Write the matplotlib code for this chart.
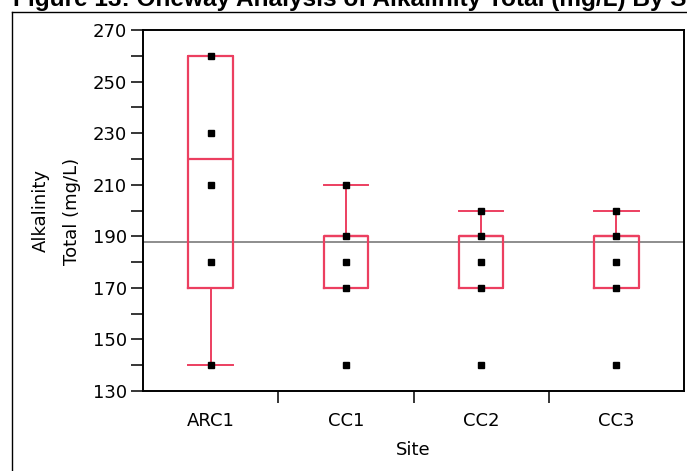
import matplotlib.pyplot as plt
from matplotlib.lines import Line2D

plt.rcParams['font.family'] = ['DejaVu Sans']

# alkalinity by site (mg/L)
sites = ['ARC1', 'CC1', 'CC2', 'CC3']
q1 = [170, 170, 170, 170]
medians = [220, 190, 190, 190]
q3 = [260, 190, 190, 190]
whisker_lo = [140, 170, 170, 170]
whisker_hi = [260, 210, 200, 200]
observations = [
    [260, 230, 210, 180, 140],
    [210, 190, 180, 170, 140],
    [200, 190, 180, 170, 140],
    [200, 190, 180, 170, 140],
]
grand_mean = 187.7

box_color = '#ec3f60'
label_size = 13

fig = plt.figure(figsize=(6.87, 4.71), dpi=100)
ax = fig.add_axes([143 / 687, 1 - 391 / 471, 541 / 687, 361 / 471])

stats = []
for i, name in enumerate(sites):
    stats.append(dict(label=name, q1=q1[i], med=medians[i], q3=q3[i],
                      whislo=whisker_lo[i], whishi=whisker_hi[i], fliers=[]))

positions = range(1, len(sites) + 1)
ax.bxp(stats, positions=positions, widths=0.33, showfliers=False,
       boxprops=dict(color=box_color, linewidth=1.6),
       medianprops=dict(color=box_color, linewidth=1.6),
       whiskerprops=dict(color=box_color, linewidth=1.4),
       capprops=dict(color=box_color, linewidth=1.4),
       capwidths=0.33)

for pos, vals in zip(positions, observations):
    ax.plot([pos] * len(vals), vals, linestyle='none', marker='s',
            markersize=4, color='black', zorder=4)

ax.axhline(grand_mean, color='#858585', linewidth=1.3, zorder=1)

ax.set_xlim(0.5, len(sites) + 0.5)
ax.set_ylim(130, 270)
ax.set_yticks(range(130, 271, 20))
ax.set_yticks(range(140, 261, 20), minor=True)
ax.set_xticks([1.5, 2.5, 3.5])
ax.set_xticklabels([])
ax.set_xticks(list(positions), minor=True)
ax.set_xticklabels(sites, minor=True)

ax.tick_params(axis='both', which='both', direction='out', length=8.5,
               width=1.1, labelsize=label_size, pad=3)
ax.tick_params(axis='x', which='minor', length=0, pad=15)
for sp in ax.spines.values():
    sp.set_linewidth(1.4)

ax.set_xlabel('Site', fontsize=label_size, labelpad=8)
fig.text(41 / 687, 1 - 210 / 471, 'Alkalinity', rotation=90,
         ha='center', va='center', fontsize=label_size)
fig.text(72 / 687, 1 - 211 / 471, 'Total (mg/L)', rotation=90,
         ha='center', va='center', fontsize=label_size)

fig.text(13 / 687, 1 - 6 / 471, 'Figure 13: Oneway Analysis of Alkalinity Total (mg/L) By Site',
         ha='left', va='baseline', fontsize=17.6, fontweight='bold',
         family='Liberation Sans')

# report frame around the plot
fig.add_artist(Line2D([11.5 / 687, 11.5 / 687], [0, 1 - 12 / 471],
                      color='black', linewidth=1, transform=fig.transFigure))
fig.add_artist(Line2D([11.5 / 687, 1], [1 - 12 / 471, 1 - 12 / 471],
                      color='black', linewidth=1, transform=fig.transFigure))

fig.savefig('out.png', dpi=100)
